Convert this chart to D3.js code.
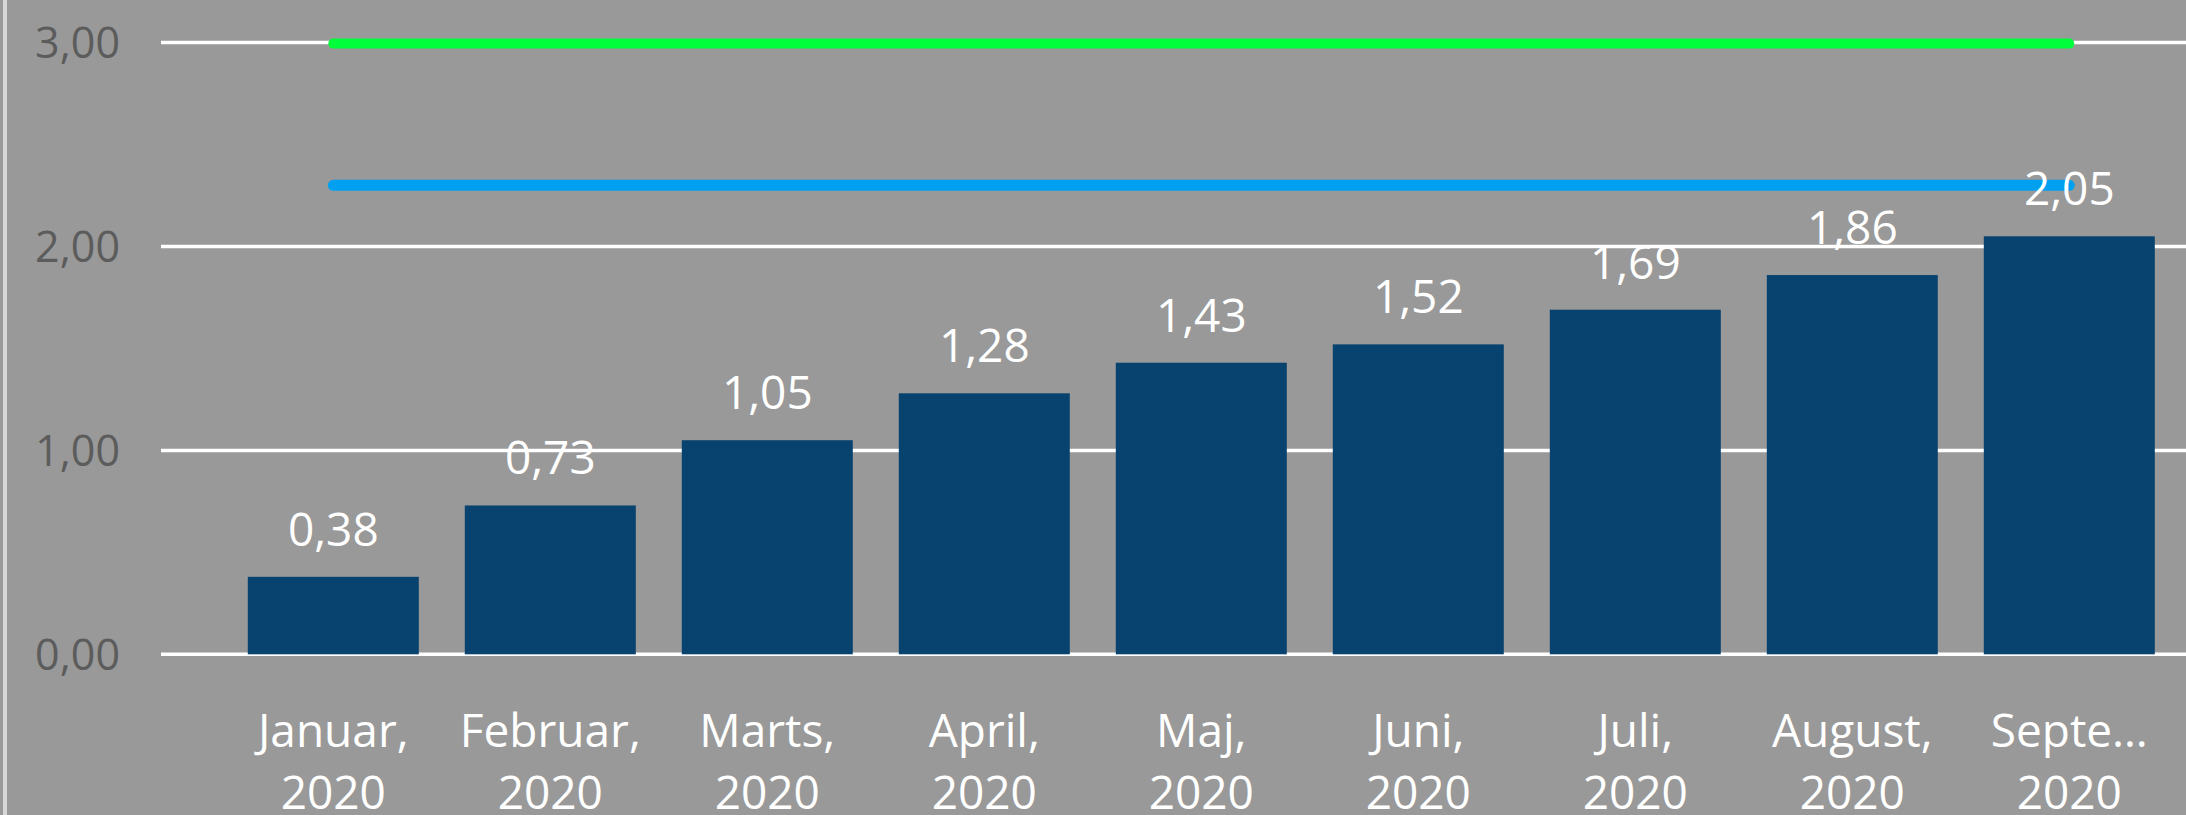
<!DOCTYPE html>
<html><head><meta charset="utf-8">
<script src="https://cdn.jsdelivr.net/npm/d3@7"></script>
<style>html,body{margin:0;padding:0;background:#999999;overflow:hidden}</style>
</head><body>
<script>
const categories = [["Januar,","2020"],["Februar,","2020"],["Marts,","2020"],["April,","2020"],["Maj,","2020"],["Juni,","2020"],["Juli,","2020"],["August,","2020"],["Septe…","2020"]];
const barValues = [0.38,0.73,1.05,1.28,1.43,1.52,1.69,1.86,2.05];
const greenValues = [3,3,3,3,3,3,3,3,3];
const blueValues = [2.3,2.3,2.3,2.3,2.3,2.3,2.3,2.3,2.3];
const yTicks = [0,1,2,3];

const W = 2186, H = 815;
const svg = d3.select("body").append("svg").attr("width",W).attr("height",H);
svg.append("rect").attr("width",W).attr("height",H).attr("fill","#999999");
svg.append("rect").attr("x",3).attr("y",0).attr("width",4).attr("height",H).attr("fill","#d6d6d6");

const locale = d3.formatLocale({decimal:",",thousands:".",grouping:[3],currency:["","kr"]});
const fmt = locale.format(".2f");

const idx = categories.map((d,i)=>i);
const x = d3.scaleBand().domain(idx).range([224.8, 2177.8]).paddingInner(0.212).paddingOuter(0.106);
const y = d3.scaleLinear().domain([0,3]).range([654.3, 42.6]);

// gridlines
svg.append("g").selectAll("line").data(yTicks).join("line")
  .attr("x1",161).attr("x2",W).attr("y1",d=>y(d)).attr("y2",d=>y(d))
  .attr("stroke","#ffffff").attr("stroke-width",3.5);

// y tick labels
svg.append("g").selectAll("text").data(yTicks).join("text")
  .attr("x",120).attr("y",d=>y(d)).attr("dy","0.36em")
  .attr("text-anchor","end").attr("font-family","'Open Sans', sans-serif")
  .attr("font-size",43).attr("fill","#5c5c5c").text(d=>fmt(d));

// bars
svg.append("g").selectAll("rect").data(barValues).join("rect")
  .attr("x",(d,i)=>x(i)).attr("width",x.bandwidth())
  .attr("y",d=>y(d)).attr("height",d=>y(0)-y(d))
  .attr("fill","#084370");

// lines
const line = d3.line().x((d,i)=>x(i)+x.bandwidth()/2).y(d=>y(d));
svg.append("path").datum(greenValues).attr("d",line).attr("fill","none")
  .attr("stroke","#00ff3a").attr("stroke-width",10).attr("stroke-linecap","round")
  .attr("transform","translate(0,1)");
svg.append("path").datum(blueValues).attr("d",line).attr("fill","none")
  .attr("stroke","#00a0f0").attr("stroke-width",11).attr("stroke-linecap","round");

// data labels
svg.append("g").selectAll("text").data(barValues).join("text")
  .attr("x",(d,i)=>x(i)+x.bandwidth()/2).attr("y",d=>y(d)-31)
  .attr("text-anchor","middle").attr("font-family","'Open Sans', sans-serif")
  .attr("font-size",46).attr("fill","#ffffff").text(d=>fmt(d));

// x labels
const xl = svg.append("g").selectAll("text").data(categories).join("text")
  .attr("x",(d,i)=>x(i)+x.bandwidth()/2)
  .attr("text-anchor","middle").attr("font-family","'Open Sans', sans-serif")
  .attr("font-size",46).attr("fill","#ffffff");
xl.append("tspan").attr("x",(d,i)=>x(i)+x.bandwidth()/2).attr("y",747).text(d=>d[0]);
xl.append("tspan").attr("x",(d,i)=>x(i)+x.bandwidth()/2).attr("y",809).text(d=>d[1]);
</script>
</body></html>
